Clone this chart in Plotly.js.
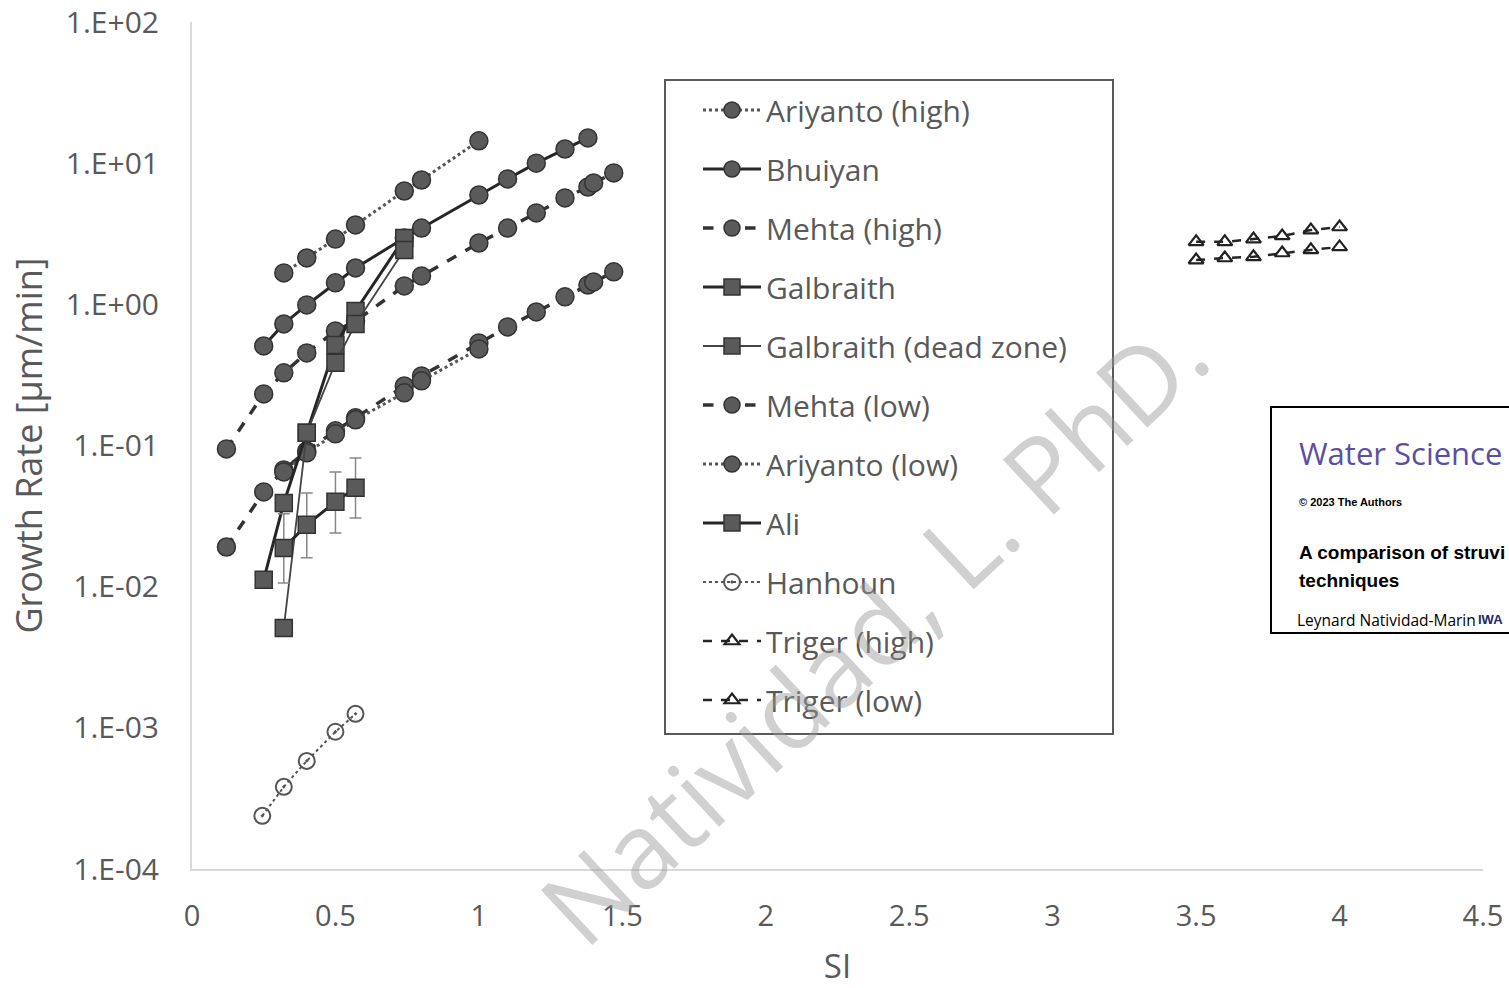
<!DOCTYPE html>
<html>
<head>
<meta charset="utf-8">
<script src="https://cdn.plot.ly/plotly-3.0.1.min.js"></script>
<style>html,body{margin:0;padding:0;background:#fff;}#chart{width:1509px;height:988px;}</style>
</head>
<body>
<div id="chart"></div>
<script>
// ---- data ----
const ariyantoHighX = [0.32, 0.40, 0.50, 0.57, 0.74, 0.80, 1.00];
const ariyantoHighY = [1.67, 2.13, 2.9, 3.65, 6.35, 7.6, 14.4];

const bhuiyanX = [0.25, 0.32, 0.40, 0.50, 0.57, 0.74, 0.80, 1.00, 1.10, 1.20, 1.30, 1.38];
const bhuiyanY = [0.507, 0.726, 0.99, 1.42, 1.81, 2.95, 3.47, 5.95, 7.73, 10.0, 12.6, 15.1];

const mehtaHighX = [0.12, 0.25, 0.32, 0.40, 0.50, 0.57, 0.74, 0.80, 1.00, 1.10, 1.20, 1.30, 1.38, 1.40, 1.47];
const mehtaHighY = [0.0946, 0.232, 0.327, 0.453, 0.648, 0.762, 1.35, 1.59, 2.72, 3.47, 4.44, 5.67, 6.78, 7.24, 8.53];

const galbraithX = [0.25, 0.32, 0.40, 0.50, 0.57, 0.74];
const galbraithY = [0.0112, 0.0392, 0.123, 0.515, 0.898, 2.95];

const galbraithDeadX = [0.32, 0.40, 0.50, 0.57, 0.74];
const galbraithDeadY = [0.0051, 0.123, 0.385, 0.726, 2.43];

const mehtaLowX = [0.12, 0.25, 0.32, 0.40, 0.50, 0.57, 0.74, 0.80, 1.00, 1.10, 1.20, 1.30, 1.38, 1.40, 1.47];
const mehtaLowY = [0.0191, 0.0469, 0.0671, 0.0916, 0.127, 0.157, 0.264, 0.311, 0.533, 0.692, 0.883, 1.13, 1.37, 1.44, 1.70];

const ariyantoLowX = [0.32, 0.40, 0.50, 0.57, 0.74, 0.80, 1.00];
const ariyantoLowY = [0.065, 0.0887, 0.121, 0.152, 0.236, 0.287, 0.483];

const aliX = [0.32, 0.40, 0.50, 0.57];
const aliY = [0.0188, 0.0274, 0.0399, 0.0501];
const aliErrPlus = [0.014, 0.0187, 0.025, 0.0316];
const aliErrMinus = [0.0082, 0.0114, 0.0159, 0.0194];

const hanhounX = [0.245, 0.32, 0.40, 0.50, 0.57];
const hanhounY = [0.000238, 0.000382, 0.000583, 0.000938, 0.001256];

const trigerX = [3.5, 3.6, 3.7, 3.8, 3.9, 4.0];
const trigerHighY = [2.77, 2.77, 2.90, 3.05, 3.36, 3.53];
const trigerLowY = [2.06, 2.13, 2.17, 2.31, 2.43, 2.55];

const yTickVals = [1e-4, 1e-3, 1e-2, 1e-1, 1, 10, 100];
const yTickText = ['1.E-04', '1.E-03', '1.E-02', '1.E-01', '1.E+00', '1.E+01', '1.E+02'];
const xTickVals = [0, 0.5, 1, 1.5, 2, 2.5, 3, 3.5, 4, 4.5];
const xTickText = ['0', '0.5', '1', '1.5', '2', '2.5', '3', '3.5', '4', '4.5'];

// ---- styling ----
const FILL = '#5a5a5a', EDGE = '#333333', LINE = '#262626';
function circ(){ return {symbol:'circle', size:18, color:FILL, line:{color:EDGE, width:1.5}}; }
function sq(){ return {symbol:'square', size:17, color:FILL, line:{color:EDGE, width:1.5}}; }

let gi = 0;
function tr(name, x, y, line, marker, extra){
  gi++;
  return Object.assign({type:'scatter', mode:'lines+markers', name:name, x:x, y:y,
    line:line, marker:marker, legendgroup:'g'+gi}, extra||{});
}

const traces = [
  tr('Ariyanto (high)', ariyantoHighX, ariyantoHighY, {color:'#555', width:3, dash:'dot'}, circ()),
  tr('Bhuiyan', bhuiyanX, bhuiyanY, {color:LINE, width:3}, circ()),
  tr('Mehta (high)', mehtaHighX, mehtaHighY, {color:'#333', width:3.5, dash:'dash'}, circ()),
  tr('Mehta (low)', mehtaLowX, mehtaLowY, {color:'#333', width:3.5, dash:'dash'}, circ()),
  tr('Ariyanto (low)', ariyantoLowX, ariyantoLowY, {color:'#555', width:3, dash:'dot'}, circ()),
  tr('Galbraith', galbraithX, galbraithY, {color:LINE, width:3}, sq()),
  tr('Galbraith (dead zone)', galbraithDeadX, galbraithDeadY, {color:'#444', width:1.8}, sq()),
  tr('Ali', aliX, aliY, {color:LINE, width:3}, sq(),
     {error_y:{type:'data', symmetric:false, array:aliErrPlus, arrayminus:aliErrMinus, color:'#888', thickness:1.5, width:6}}),
  tr('Hanhoun', hanhounX, hanhounY, {color:'#555', width:2, dash:'dot'},
     {symbol:'circle-open-dot', size:16, color:'#555', line:{color:'#555', width:2}}),
  tr('Triger (high)', trigerX, trigerHighY, {color:LINE, width:2.5, dash:'dash'},
     {symbol:'triangle-up-open', size:13, color:'#222', line:{color:'#222', width:2.2}}),
  tr('Triger (low)', trigerX, trigerLowY, {color:LINE, width:2.5, dash:'dash'},
     {symbol:'triangle-up-open', size:13, color:'#222', line:{color:'#222', width:2.2}})
];
// legend order as in the picture
const legendOrder = ['Ariyanto (high)','Bhuiyan','Mehta (high)','Galbraith','Galbraith (dead zone)','Mehta (low)','Ariyanto (low)','Ali','Hanhoun','Triger (high)','Triger (low)'];
traces.forEach(t => { t.legendrank = legendOrder.indexOf(t.name) + 1; });

const W = 1509, H = 988, L = 192, R = 26, T = 22, B = 119;
const pw = W - L - R, ph = H - T - B;
const px = v => (v - L) / pw;
const py = v => (H - B - v) / ph;

const layout = {
  width: W, height: H,
  margin: {l:L, r:R, t:T, b:B, pad:0},
  paper_bgcolor:'#fff', plot_bgcolor:'#fff',
  font: {family:'Open Sans, sans-serif', color:'#595959'},
  showlegend: true,
  xaxis: {
    range:[0, 4.5], showgrid:false, zeroline:false,
    showline:true, linecolor:'#d9d9d9', linewidth:2,
    tickmode:'array', tickvals:xTickVals, ticktext:xTickText,
    ticks:'', tickfont:{size:29, color:'#595959'}, ticklabelstandoff:20,
    title:{text:'SI', font:{size:33, color:'#595959'}, standoff:28}
  },
  yaxis: {
    type:'log', range:[-4, 2], showgrid:false, zeroline:false,
    showline:true, linecolor:'#d9d9d9', linewidth:2,
    tickmode:'array', tickvals:yTickVals, ticktext:yTickText,
    ticks:'', tickfont:{size:30, color:'#595959'}, ticklabelstandoff:25,
    title:{text:'Growth Rate [µm/min]', font:{size:36, color:'#595959'}, standoff:12}
  },
  legend: {
    x: px(698), y: py(84), xanchor:'left', yanchor:'top',
    bgcolor:'rgba(0,0,0,0)', borderwidth:0,
    font:{size:30, color:'#595959'},
    traceorder:'grouped', tracegroupgap:17, itemwidth:58
  },
  shapes: [
    {type:'rect', xref:'paper', yref:'paper', x0:px(665), x1:px(1113), y0:py(734), y1:py(80),
     line:{color:'#595959', width:2}, fillcolor:'rgba(0,0,0,0)'},
    {type:'rect', xref:'paper', yref:'paper', x0:px(1271), x1:px(1520), y0:py(633), y1:py(407),
     line:{color:'#000', width:2}, fillcolor:'#fff'}
  ],
  annotations: [
    {xref:'paper', yref:'paper', x:px(872), y:py(628), xanchor:'center', yanchor:'middle',
     text:'Natividad, L. PhD.', showarrow:false,
     textangle:-43, font:{size:105, color:'rgba(150,150,150,0.45)', family:'Open Sans, sans-serif'}},
    {xref:'paper', yref:'paper', x:px(1297), y:py(453), xanchor:'left', yanchor:'middle', showarrow:false,
     text:'Water Science', font:{size:31, color:'#5b4fa3', family:'Open Sans, sans-serif'}},
    {xref:'paper', yref:'paper', x:px(1297), y:py(502), xanchor:'left', yanchor:'middle', showarrow:false,
     text:'<b>© 2023 The Authors</b>', font:{size:11, color:'#000', family:'Liberation Sans, sans-serif'}},
    {xref:'paper', yref:'paper', x:px(1297), y:py(552), xanchor:'left', yanchor:'middle', showarrow:false,
     text:'<b>A comparison of struvi</b>', font:{size:19, color:'#000', family:'Liberation Sans, sans-serif'}},
    {xref:'paper', yref:'paper', x:px(1297), y:py(581), xanchor:'left', yanchor:'middle', showarrow:false,
     text:'<b>techniques</b>', font:{size:19, color:'#000', family:'Liberation Sans, sans-serif'}},
    {xref:'paper', yref:'paper', x:px(1295), y:py(620), xanchor:'left', yanchor:'middle', showarrow:false,
     text:'Leynard Natividad-Marin', font:{size:15.5, color:'#000', family:'Open Sans, sans-serif'}},
    {xref:'paper', yref:'paper', x:px(1476), y:py(619), xanchor:'left', yanchor:'middle', showarrow:false,
     text:'<b>IWA</b>', font:{size:13, color:'#1b2a6b', family:'Liberation Sans, sans-serif'}}
  ]
};

Plotly.newPlot('chart', traces, layout, {displayModeBar:false, staticPlot:true});
</script>
</body>
</html>
